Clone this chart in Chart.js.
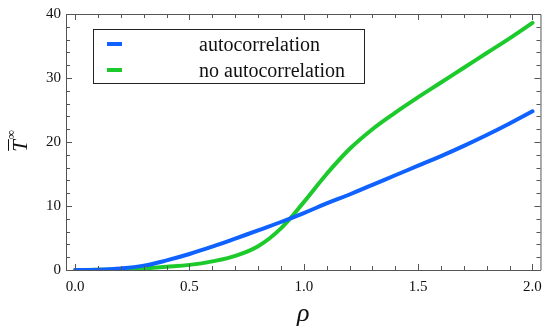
<!DOCTYPE html>
<html>
<head>
<meta charset="utf-8">
<script src="https://cdn.jsdelivr.net/npm/chart.js@4.4.1/dist/chart.umd.min.js"></script>
<style>
  html, body { margin: 0; padding: 0; background: #fff; }
  #wrap { width: 550px; height: 334px; position: relative; }
</style>
</head>
<body>
<div id="wrap"><canvas id="chart"></canvas></div>
<script>
        const rho = [0.0, 0.1, 0.2, 0.3, 0.4, 0.5, 0.6, 0.7, 0.8, 0.9, 1.0,
                     1.1, 1.2, 1.3, 1.4, 1.5, 1.6, 1.7, 1.8, 1.9, 2.0];
        const autocorr = [0, 0.05, 0.25, 0.68, 1.5, 2.5, 3.65, 4.9, 6.2, 7.5, 8.9,
                          10.4, 11.8, 13.3, 14.8, 16.3, 17.8, 19.4, 21.1, 22.9, 24.8];
        const noAutocorr = [0, 0.02, 0.1, 0.25, 0.5, 0.8, 1.35, 2.2, 3.7, 6.5, 10.6,
                            15.0, 18.9, 22.0, 24.6, 27.0, 29.3, 31.6, 33.9, 36.2, 38.6];
        const seriesNames = ['autocorrelation', 'no autocorrelation'];
        const xTicks = [0, 0.5, 1.0, 1.5, 2.0];
        const yTicks = [0, 10, 20, 30, 40];

        const serif = "'Liberation Serif', 'Times New Roman', serif";
        const frameColor = '#555';

        function points(ys) {
            return rho.map((x, i) => ({ x: x, y: ys[i] }));
        }

        // inward ticks on all four sides, top/right frame, legend box, y title
        const framePlugin = {
            id: 'frame',
            afterDraw(chart) {
                const ctx = chart.ctx;
                const a = chart.chartArea;
                const xs = chart.scales.x, ys = chart.scales.y;
                ctx.save();
                ctx.strokeStyle = frameColor;
                ctx.lineWidth = 1;
                ctx.beginPath();
                ctx.moveTo(a.left, a.top + 0.5);
                ctx.lineTo(a.right + 0.5, a.top + 0.5);
                ctx.lineTo(a.right + 0.5, a.bottom);
                ctx.stroke();
                ctx.beginPath();
                for (let i = 0; i <= 20; i++) {
                    const px = Math.round(xs.getPixelForValue(i / 10)) + 0.5;
                    const len = i % 5 === 0 ? 6 : 4;
                    ctx.moveTo(px, a.bottom); ctx.lineTo(px, a.bottom - len);
                    ctx.moveTo(px, a.top); ctx.lineTo(px, a.top + len);
                }
                for (let v = 0; v <= 40; v += 2) {
                    const py = Math.round(ys.getPixelForValue(v)) + 0.5;
                    const len = v % 10 === 0 ? 6 : 4;
                    ctx.moveTo(a.left, py); ctx.lineTo(a.left + len, py);
                    ctx.moveTo(a.right, py); ctx.lineTo(a.right - len, py);
                }
                ctx.stroke();

                // legend box
                ctx.strokeStyle = '#222';
                ctx.strokeRect(93.5, 29.5, 271, 54);
                chart.data.datasets.forEach((ds, i) => {
                    const y = 44 + i * 26;
                    ctx.strokeStyle = ds.borderColor;
                    ctx.lineWidth = 4;
                    ctx.beginPath();
                    ctx.moveTo(107, y); ctx.lineTo(122, y);
                    ctx.stroke();
                    ctx.fillStyle = '#111';
                    ctx.font = '20px ' + serif;
                    ctx.textBaseline = 'alphabetic';
                    ctx.fillText(ds.label, 199, y + 7);
                });

                // y axis title: T-bar with superscript infinity
                ctx.translate(27, 146);
                ctx.rotate(-Math.PI / 2);
                ctx.fillStyle = '#111';
                ctx.font = 'italic 21px ' + serif;
                const tw = ctx.measureText('T').width;
                ctx.fillText('T', -tw / 2, 0);
                ctx.strokeStyle = '#111';
                ctx.lineWidth = 1;
                ctx.beginPath();
                ctx.moveTo(-tw / 2 + 1, -18.5); ctx.lineTo(tw / 2 + 1, -18.5);
                ctx.stroke();
                ctx.font = '13px ' + serif;
                ctx.fillText('\u221E', tw / 2 + 1, -12);
                ctx.restore();
            }
        };

        new Chart(document.getElementById('chart'), {
            type: 'line',
            data: {
                datasets: [
                    { label: seriesNames[0], data: points(autocorr), borderColor: '#0f62ff' },
                    { label: seriesNames[1], data: points(noAutocorr), borderColor: '#1dca2c' }
                ]
            },
            options: {
                responsive: true,
                maintainAspectRatio: false,
                animation: false,
                layout: { padding: { top: 10, right: 9, left: 0, bottom: 0 } },
                elements: {
                    point: { radius: 0 },
                    line: { borderWidth: 4, tension: 0.4, borderCapStyle: 'round' }
                },
                plugins: {
                    legend: { display: false },
                    tooltip: { enabled: false }
                },
                scales: {
                    x: {
                        type: 'linear',
                        min: -0.04,
                        max: 2.035,
                        afterBuildTicks: s => { s.ticks = xTicks.map(v => ({ value: v })); },
                        afterFit: s => { s.height = 64; },
                        grid: { display: false, drawTicks: false },
                        border: { display: true, color: frameColor },
                        ticks: {
                            padding: 8,
                            color: '#111',
                            font: { family: serif, size: 15 },
                            callback: v => v.toFixed(1)
                        },
                        title: {
                            display: true,
                            text: '\u03C1',
                            color: '#111',
                            font: { family: serif, size: 26, style: 'italic' },
                            padding: { top: 8 }
                        }
                    },
                    y: {
                        min: 0,
                        max: 40,
                        afterBuildTicks: s => { s.ticks = yTicks.map(v => ({ value: v })); },
                        afterFit: s => { s.width = 66; },
                        grid: { display: false, drawTicks: false },
                        border: { display: true, color: frameColor },
                        ticks: {
                            padding: 5,
                            color: '#111',
                            font: { family: serif, size: 15 }
                        }
                    }
                }
            },
            plugins: [framePlugin]
        });
</script>
</body>
</html>
